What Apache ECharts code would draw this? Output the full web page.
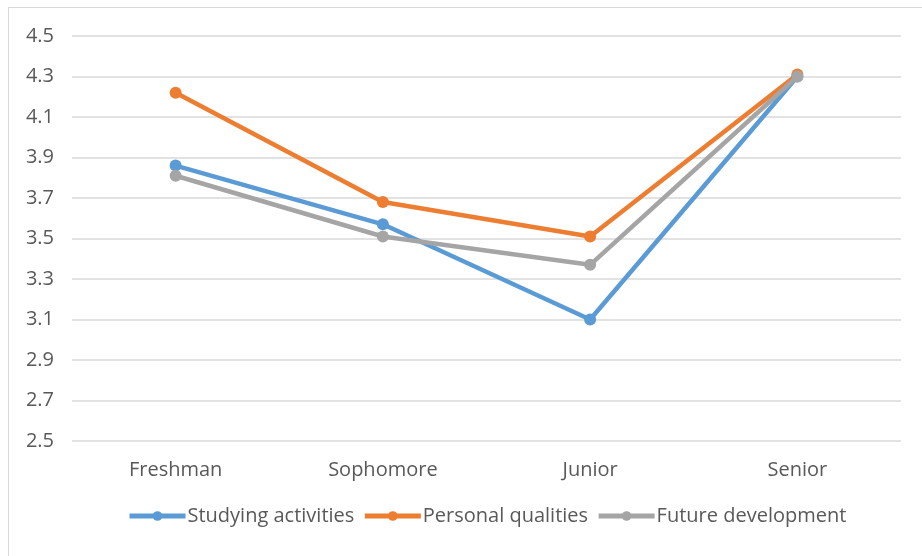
<!DOCTYPE html>
<html>
<head>
<meta charset="utf-8">
<script src="https://cdn.jsdelivr.net/npm/echarts@6/dist/echarts.min.js"></script>
<style>
    html, body { margin: 0; padding: 0; background: #fff; }
    #frame { position: absolute; left: 8px; top: 7px; width: 930px; height: 560px; border: 1px solid #d9d9d9; box-sizing: border-box; }
    #chart { position: absolute; left: 0; top: 0; width: 922px; height: 556px; }
</style>
</head>
<body>
<div id="frame"></div>
<div id="chart"></div>
<script>
// data
const categories = ["Freshman", "Sophomore", "Junior", "Senior"];
const studyingActivities = [3.86, 3.57, 3.10, 4.30];
const personalQualities = [4.22, 3.68, 3.51, 4.31];
const futureDevelopment = [3.81, 3.51, 3.37, 4.30];
const seriesNames = ["Studying activities", "Personal qualities", "Future development"];
const seriesColors = ["#5b9bd5", "#ed7d31", "#a5a5a5"];

const font = "'Open Sans', Lato, sans-serif";

function makeLine(name, data, color) {
    return {
        name: name,
        type: "line",
        data: data,
        symbol: "circle",
        symbolSize: 12,
        lineStyle: { width: 4.5, color: color },
        itemStyle: { color: color },
        emphasis: { disabled: true },
        animation: false
    };
}

const chart = echarts.init(document.getElementById("chart"), null, { renderer: "canvas" });
chart.setOption({
    animation: false,
    textStyle: { fontFamily: font },
    grid: { left: 72, right: 21, top: 36, bottom: 115, containLabel: false },
    legend: {
        bottom: 25,
        left: 122,
        itemGap: 8,
        itemWidth: 56,
        itemHeight: 12,
        lineStyle: { width: 5 },
        textStyle: { color: "#595959", fontSize: 20, fontFamily: font, padding: [0, 0, 0, -3] },
        data: seriesNames
    },
    xAxis: {
        type: "category",
        data: categories,
        boundaryGap: true,
        axisLine: { show: false },
        axisTick: { show: false },
        axisLabel: { color: "#595959", fontSize: 20, margin: 19 },
        splitLine: { show: false }
    },
    yAxis: {
        type: "value",
        min: 2.5,
        max: 4.5,
        interval: 0.2,
        axisLine: { show: false },
        axisTick: { show: false },
        axisLabel: {
            color: "#595959",
            fontSize: 20,
            margin: 18,
            formatter: (v) => v.toFixed(1)
        },
        splitLine: { lineStyle: { color: "#d9d9d9", width: 1.5 } }
    },
    series: [
        makeLine(seriesNames[0], studyingActivities, seriesColors[0]),
        makeLine(seriesNames[1], personalQualities, seriesColors[1]),
        makeLine(seriesNames[2], futureDevelopment, seriesColors[2])
    ]
});
</script>
</body>
</html>
